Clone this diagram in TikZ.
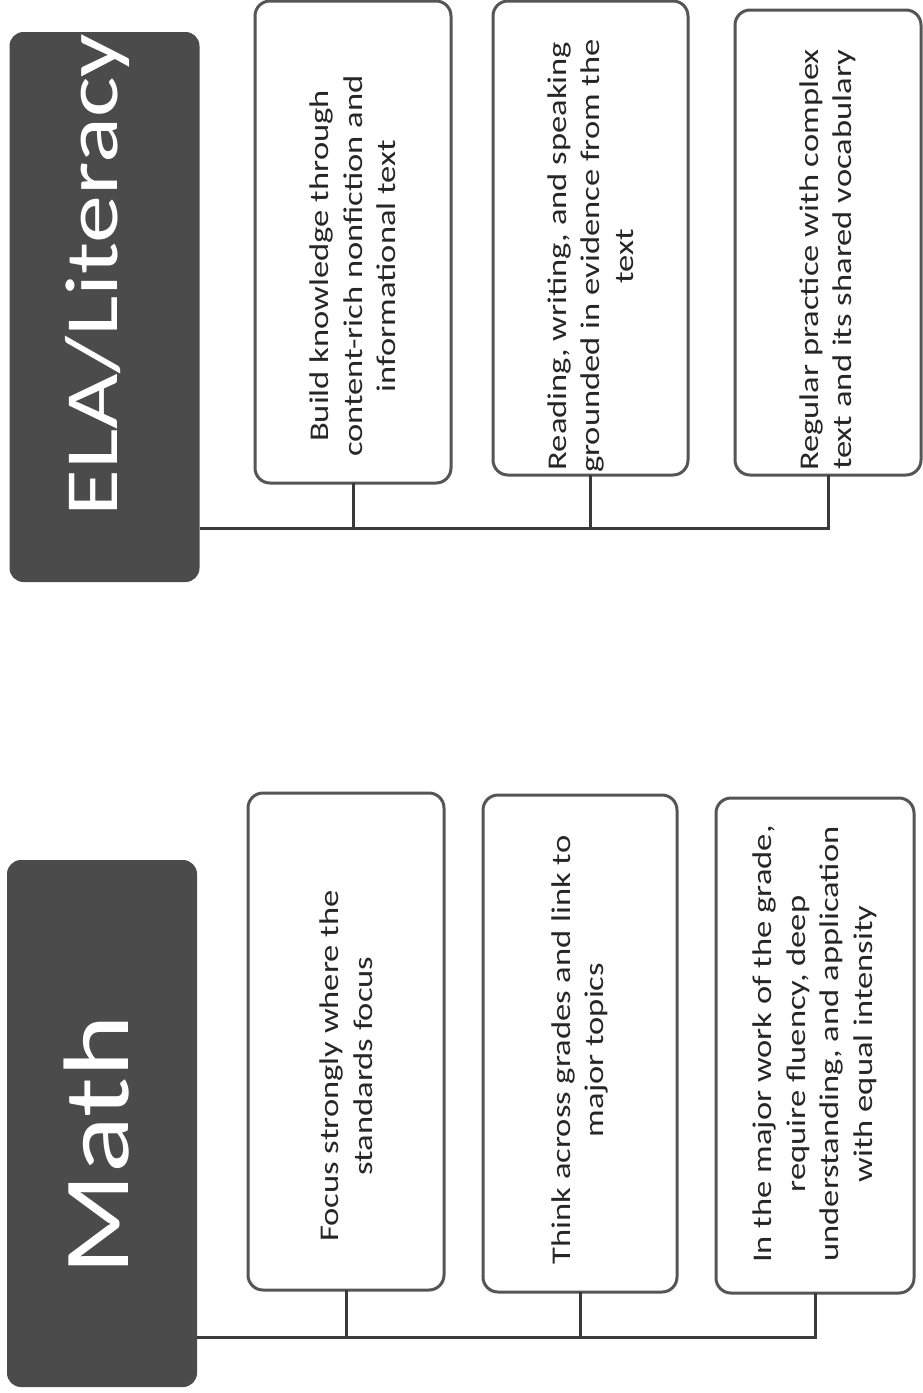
\documentclass[tikz,border=0pt]{standalone}
\usepackage{fontspec}
\setmainfont{Carlito}[FakeStretch=1.28]
\definecolor{headfill}{HTML}{4B4B4B}
\definecolor{boxline}{HTML}{555555}
\definecolor{connline}{HTML}{3A3A3A}
\tikzset{
  headbox/.style={fill=headfill, rounded corners=14pt, inner sep=0pt, outer sep=0pt},
  headtext/.style={text=white, rotate=90, anchor=base, inner sep=0pt},
  itembox/.style={draw=boxline, line width=3pt, fill=white, rounded corners=15pt, rotate=90, inner sep=0pt, outer sep=0pt},
  itemtext/.style={rotate=90, align=center, inner sep=0pt, font=\fontsize{27}{33.5}\selectfont, text=black!85},
  conn/.style={draw=connline, line width=3pt}
}
\begin{document}
\begin{tikzpicture}[x=1pt,y=-1pt]
\useasboundingbox (0,0) rectangle (923,1393);
% ELA / Literacy
\node[headbox, minimum width=190pt, minimum height=550pt] (ehead) at (104.5,307) {};
\node[headtext, font=\fontsize{75}{80}\selectfont] (etitle) at (117,275) {ELA/Literacy};
\node[itembox, minimum width=482pt, minimum height=196pt] (ebox1) at (353,242) {};
\node[itembox, minimum width=474pt, minimum height=195pt] (ebox2) at (590.5,238) {};
\node[itembox, minimum width=465pt, minimum height=186pt] (ebox3) at (828,242.5) {};
\node[itemtext] (etext1) at (353,266) {Build knowledge through\\content-rich nonfiction and\\informational text};
\node[itemtext] (etext2) at (590.5,256) {Reading, writing, and speaking\\grounded in evidence from the\\text};
\node[itemtext] (etext3) at (828,260) {Regular practice with complex\\text and its shared vocabulary};
\coordinate (ebus) at (0,528);
\draw[conn] (ehead.east |- ebus) -- (ebox3.west |- ebus) -- (ebox3.west);
\draw[conn] (ebox1.west) -- (ebox1.west |- ebus);
\draw[conn] (ebox2.west) -- (ebox2.west |- ebus);
% Math
\node[headbox, minimum width=190pt, minimum height=527pt] (mhead) at (102,1123.5) {};
\node[headtext, font=\fontsize{93}{98}\selectfont] (mtitle) at (128,1145) {Math};
\node[itembox, minimum width=497pt, minimum height=196pt] (mbox1) at (346,1041.5) {};
\node[itembox, minimum width=497pt, minimum height=194pt] (mbox2) at (580,1043.5) {};
\node[itembox, minimum width=495pt, minimum height=198pt] (mbox3) at (815,1045.5) {};
\node[itemtext] (mtext1) at (346,1066) {Focus strongly where the\\standards focus};
\node[itemtext] (mtext2) at (580,1050) {Think across grades and link to\\major topics};
\node[itemtext] (mtext3) at (815,1044) {In the major work of the grade,\\require fluency, deep\\understanding, and application\\with equal intensity};
\coordinate (mbus) at (0,1337);
\draw[conn] (mhead.east |- mbus) -- (mbox3.west |- mbus) -- (mbox3.west);
\draw[conn] (mbox1.west) -- (mbox1.west |- mbus);
\draw[conn] (mbox2.west) -- (mbox2.west |- mbus);
\end{tikzpicture}
\end{document}
